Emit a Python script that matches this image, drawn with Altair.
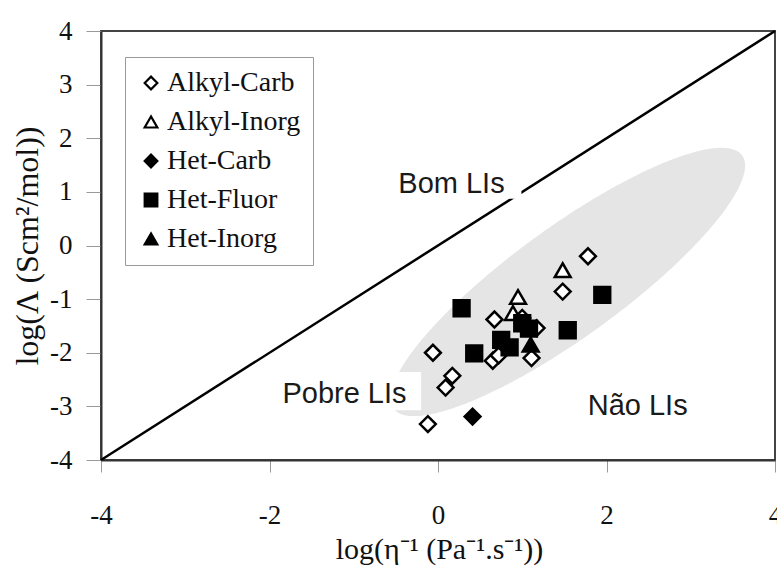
import altair as alt
import numpy as np
import pandas as pd

# ---------------- data ----------------
categories = ["Alkyl-Carb", "Alkyl-Inorg", "Het-Carb", "Het-Fluor", "Het-Inorg"]
shapes = ["diamond", "triangle-up", "diamond", "square", "triangle-up"]
fills = ["white", "white", "black", "black", "black"]
strokes = ["black", "black", "black", "black", "black"]

alkyl_carb_x = [1.78, 1.48, 0.67, 1.17, -0.06, 0.65, 0.72, 1.11, 0.17, 0.09, -0.12, 1.00]
alkyl_carb_y = [-0.20, -0.86, -1.38, -1.54, -2.00, -2.15, -2.05, -2.10, -2.43, -2.65, -3.33, -1.35]

alkyl_inorg_x = [1.48, 0.95, 0.89]
alkyl_inorg_y = [-0.46, -0.96, -1.26]

het_carb_x = [0.41]
het_carb_y = [-3.19]

het_fluor_x = [0.28, 1.95, 1.54, 0.43, 0.75, 0.85, 1.08, 1.00]
het_fluor_y = [-1.17, -0.92, -1.58, -2.01, -1.76, -1.90, -1.55, -1.45]

het_inorg_x = [1.10]
het_inorg_y = [-1.85]

x_ticks = [-4, -2, 0, 2, 4]
y_ticks = [-4, -3, -2, -1, 0, 1, 2, 3, 4]

diag_x = [-4, 4]
diag_y = [-4, 4]

label_text = ["Bom LIs", "Pobre LIs", "Não LIs"]
label_x = [0.16, -1.11, 2.37]
label_y = [0.98, -2.94, -3.16]

box_x1 = [-0.60, -2.02]
box_x2 = [0.99, -0.20]
box_y1 = [1.50, -2.36]
box_y2 = [0.87, -3.07]

# shaded ellipse (data units): centre, two conjugate half-axes
ell_center = [1.54, -0.68]
ell_axis_a = [2.07, 2.36]
ell_axis_b = [0.384, -0.83]

# ---------------- tables ----------------
rows = []
for cat, xs, ys in [
    ("Alkyl-Carb", alkyl_carb_x, alkyl_carb_y),
    ("Alkyl-Inorg", alkyl_inorg_x, alkyl_inorg_y),
    ("Het-Carb", het_carb_x, het_carb_y),
    ("Het-Fluor", het_fluor_x, het_fluor_y),
    ("Het-Inorg", het_inorg_x, het_inorg_y),
]:
    for xv, yv in zip(xs, ys):
        rows.append({"series": cat, "x": xv, "y": yv})
pts = pd.DataFrame(rows)

cx, cy = ell_center
ax_, ay_ = ell_axis_a
bx_, by_ = ell_axis_b
rx = np.hypot(ax_, bx_)
phi = np.arctan2(bx_, ax_)
s = np.linspace(0, np.pi, 241)
ex = cx + rx * np.cos(s)
t1 = phi + s
t2 = phi - s
ey1 = cy + ay_ * np.cos(t1) + by_ * np.sin(t1)
ey2 = cy + ay_ * np.cos(t2) + by_ * np.sin(t2)
ell = pd.DataFrame({"x": ex, "y": np.maximum(ey1, ey2), "y2": np.minimum(ey1, ey2)})

diag = pd.DataFrame({"x": diag_x, "y": diag_y})
labels = pd.DataFrame({"t": label_text, "x": label_x, "y": label_y})
boxes = pd.DataFrame({"x": box_x1, "x2": box_x2, "y": box_y1, "y2": box_y2})

# ---------------- scales / axes ----------------
xscale = alt.Scale(domain=[-4, 4], nice=False, zero=False)
yscale = alt.Scale(domain=[-4, 4], nice=False, zero=False)

xaxis = alt.Axis(
    values=x_ticks, title="log(η⁻¹ (Pa⁻¹.s⁻¹))", tickSize=12, labelPadding=51,
    labelBaseline="alphabetic", labelExpr="toString(datum.value)", labelFlush=False,
    labelOverlap=False, titleFontSize=30, titleX=338, titleY=98,
    titleBaseline="alphabetic", titleAlign="center",
)
yaxis = alt.Axis(
    values=y_ticks, title="log(Λ (Scm²/mol))", tickSize=15, labelPadding=14,
    labelExpr="toString(datum.value)", labelFlush=False, labelOverlap=False,
    titleFontSize=32, titleAngle=-90, titleX=-64, titleY=214.5,
    titleAlign="center", titleBaseline="alphabetic",
)


def X(f="x"):
    return alt.X(f, type="quantitative", scale=xscale, axis=xaxis)


def Y(f="y"):
    return alt.Y(f, type="quantitative", scale=yscale, axis=yaxis)


ellipse = alt.Chart(ell).mark_area(color="#e5e5e5", orient="vertical").encode(
    x=X(), y=Y(), y2="y2:Q"
)

line = alt.Chart(diag).mark_line(color="black", strokeWidth=2.5).encode(x=X(), y=Y())

rects = alt.Chart(boxes).mark_rect(color="white").encode(
    x=X(), x2="x2:Q", y=Y(), y2="y2:Q"
)

texts = alt.Chart(labels).mark_text(
    font="Liberation Sans", fontSize=29, align="center", baseline="alphabetic", color="#1a1a1a"
).encode(x=X(), y=Y(), text="t:N")

leg = alt.Legend(
    title=None, orient="none", legendX=24, legendY=26, padding=12, rowPadding=11,
    labelOffset=2, symbolSize=160, symbolStrokeWidth=2.2,
    strokeColor="#999", fillColor="white", labelFont="Liberation Serif",
    labelFontSize=28, labelColor="#111", labelLimit=300,
)

points = alt.Chart(pts).mark_point(
    filled=True, strokeWidth=2.5, size=250, opacity=1
).encode(
    x=X(), y=Y(),
    shape=alt.Shape("series:N", scale=alt.Scale(domain=categories, range=shapes), legend=leg),
    fill=alt.Fill("series:N", scale=alt.Scale(domain=categories, range=fills), legend=leg),
    stroke=alt.Stroke("series:N", scale=alt.Scale(domain=categories, range=strokes), legend=leg),
)

chart = (
    alt.layer(ellipse, line, rects, texts, points)
    .properties(
        width=674, height=429, autosize="none",
        padding={"left": 101, "top": 31, "right": 2, "bottom": 108},
        background="white",
    )
    .configure_view(stroke="#444", strokeWidth=2)
    .configure_axis(
        domainColor="#333", domainWidth=2, tickColor="#999", tickWidth=1,
        labelFont="Liberation Serif", labelFontSize=27, labelColor="#111",
        titleFont="Liberation Serif", titleFontWeight="normal", titleColor="#111",
        grid=False,
    )
)

chart.save("out.html", embed_options={"renderer": "svg", "actions": False})
